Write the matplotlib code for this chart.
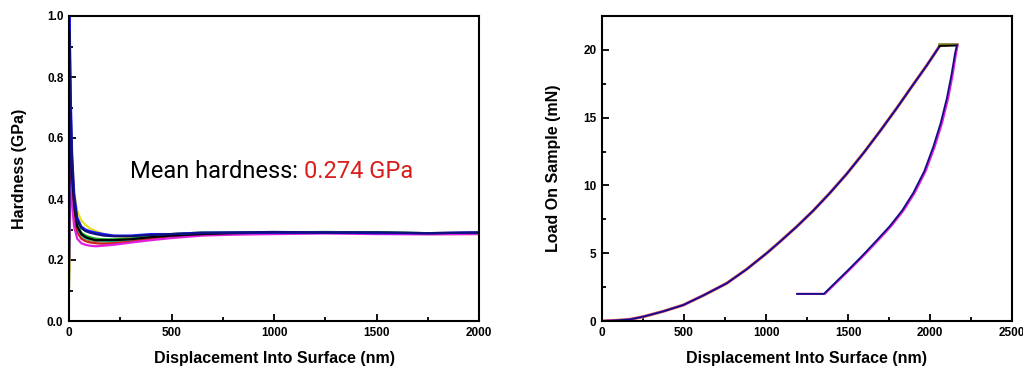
import matplotlib
matplotlib.use("Agg")
import matplotlib.pyplot as plt
from matplotlib.ticker import MultipleLocator, FormatStrFormatter

# hardness vs depth, one list per indent
hardness_depth = [0, 3, 8, 15, 25, 40, 60, 80, 100, 130, 170, 220, 300, 400,
                  500, 650, 800, 1000, 1250, 1500, 1750, 2000]
hardness_series = {
    "#e8e020": [0.15, 0.60, 0.66, 0.55, 0.42, 0.36, 0.33, 0.315, 0.305, 0.295, 0.285, 0.278,
                0.275, 0.28, 0.285, 0.29, 0.29, 0.29, 0.29, 0.288, 0.285, 0.285],
    "#909020": [0.10, 0.20, 0.55, 0.45, 0.36, 0.30, 0.278, 0.27, 0.265, 0.262, 0.26, 0.26,
                0.265, 0.272, 0.28, 0.285, 0.287, 0.288, 0.29, 0.289, 0.288, 0.288],
    "#20b020": [0.20, 0.88, 0.65, 0.50, 0.38, 0.32, 0.29, 0.28, 0.275, 0.27, 0.268, 0.268,
                0.27, 0.278, 0.285, 0.29, 0.29, 0.29, 0.292, 0.29, 0.288, 0.288],
    "#20d0d0": [0.20, 0.70, 0.58, 0.46, 0.36, 0.30, 0.28, 0.272, 0.268, 0.265, 0.263, 0.263,
                0.267, 0.275, 0.28, 0.285, 0.288, 0.29, 0.29, 0.29, 0.288, 0.288],
    "#d02020": [0.20, 0.60, 0.50, 0.42, 0.34, 0.29, 0.27, 0.262, 0.258, 0.255, 0.253, 0.255,
                0.26, 0.27, 0.278, 0.283, 0.286, 0.288, 0.289, 0.288, 0.287, 0.287],
    "#e020e0": [0.20, 0.45, 0.44, 0.38, 0.31, 0.27, 0.255, 0.25, 0.247, 0.245, 0.247, 0.25,
                0.257, 0.265, 0.272, 0.28, 0.283, 0.285, 0.287, 0.285, 0.284, 0.285],
    "#000000": [0.30, 0.80, 0.62, 0.48, 0.38, 0.31, 0.285, 0.275, 0.27, 0.265, 0.265, 0.265,
                0.268, 0.275, 0.28, 0.285, 0.288, 0.29, 0.29, 0.29, 0.288, 0.29],
    "#1a1aff": [0.20, 1.00, 0.75, 0.55, 0.42, 0.34, 0.31, 0.30, 0.295, 0.29, 0.285, 0.28,
                0.28, 0.285, 0.285, 0.29, 0.29, 0.29, 0.29, 0.288, 0.288, 0.29],
    "#101080": [0.25, 0.95, 0.70, 0.52, 0.40, 0.33, 0.305, 0.295, 0.29, 0.285, 0.28, 0.278,
                0.278, 0.282, 0.285, 0.288, 0.29, 0.292, 0.29, 0.29, 0.288, 0.29],
}

# load-displacement: loading branch, hold, unloading branch
loading_disp = [0, 80, 171, 252, 370, 496, 620, 760, 880, 1004, 1085, 1187, 1289,
                1390, 1492, 1595, 1695, 1800, 1898, 1980, 2057]
loading_load = [0, 0.04, 0.12, 0.32, 0.70, 1.18, 1.90, 2.78, 3.80, 5.00, 5.85, 6.96, 8.15,
                9.45, 10.85, 12.40, 14.00, 15.75, 17.45, 18.85, 20.25]
hold_disp = [2057, 2163]
hold_load = [20.28, 20.32]
hold_top_load = [20.42, 20.42]
unloading_disp = [2163, 2152, 2130, 2102, 2065, 2020, 1965, 1898, 1830, 1755, 1675,
                  1590, 1500, 1420, 1353, 1270, 1190]
unloading_load = [20.32, 19.70, 18.10, 16.40, 14.60, 12.85, 11.05, 9.45, 8.15, 7.00, 5.95,
                  4.85, 3.75, 2.80, 2.00, 2.00, 2.00]
unloading_disp_magenta = [2168, 2158, 2137, 2110, 2073, 2028, 1973, 1906, 1838, 1763, 1683,
                          1597, 1507, 1426, 1358, 1272, 1192]

mean_label = "Mean hardness: "
mean_value = "0.274 GPa"

plt.rcParams['font.family'] = ['Liberation Sans', 'DejaVu Sans']

fig = plt.figure(figsize=(10.23, 3.67), dpi=100)
ax1 = fig.add_axes([69 / 1023, 46 / 367, 410 / 1023, 305 / 367])
ax2 = fig.add_axes([602 / 1023, 46 / 367, 410 / 1023, 305 / 367])

for color, vals in hardness_series.items():
    ax1.plot(hardness_depth, vals, color=color, lw=1.6)

ax2.plot(hold_disp, hold_top_load, color="#707020", lw=1.8)
ax2.plot(loading_disp, loading_load, color="#e8e020", lw=2.4)
ax2.plot(loading_disp, loading_load, color="#e020e0", lw=1.9)
ax2.plot(unloading_disp_magenta, unloading_load, color="#e020e0", lw=1.6)
ax2.plot(loading_disp, loading_load, color="#101080", lw=1.3)
ax2.plot(hold_disp, hold_load, color="#000000", lw=1.3)
ax2.plot(unloading_disp, unloading_load, color="#101080", lw=1.3)

ax1.set_xlim(0, 2000)
ax1.set_ylim(0, 1.0)
ax1.xaxis.set_major_locator(MultipleLocator(500))
ax1.xaxis.set_minor_locator(MultipleLocator(250))
ax1.yaxis.set_major_locator(MultipleLocator(0.2))
ax1.yaxis.set_minor_locator(MultipleLocator(0.1))
ax1.yaxis.set_major_formatter(FormatStrFormatter('%.1f'))

ax2.set_xlim(0, 2500)
ax2.set_ylim(0, 22.5)
ax2.xaxis.set_major_locator(MultipleLocator(500))
ax2.xaxis.set_minor_locator(MultipleLocator(250))
ax2.yaxis.set_major_locator(MultipleLocator(5))
ax2.yaxis.set_minor_locator(MultipleLocator(2.5))

for ax in (ax1, ax2):
    for sp in ax.spines.values():
        sp.set_linewidth(1.5)
    ax.tick_params(which='both', direction='in', top=False, right=False, width=1.3)
    ax.tick_params(which='major', length=5, labelsize=8.5, pad=4)
    ax.tick_params(which='minor', length=3)
    for lbl in ax.get_xticklabels() + ax.get_yticklabels():
        lbl.set_fontweight('bold')
    ax.set_xlabel("Displacement Into Surface (nm)", fontsize=11.5, fontweight='bold', labelpad=9)

ax1.set_ylabel("Hardness (GPa)", fontsize=11.5, fontweight='bold', labelpad=14)
ax2.set_ylabel("Load On Sample (mN)", fontsize=11.5, fontweight='bold', labelpad=16)

txt_font = ['Liberation Sans Narrow', 'Roboto', 'DejaVu Sans']
ax1.text(0.573, 0.489, mean_label, transform=ax1.transAxes, ha='right', va='center',
         fontsize=17, family=txt_font, color='black')
ax1.text(0.573, 0.489, mean_value, transform=ax1.transAxes, ha='left', va='center',
         fontsize=17, family=txt_font, color='#d81e1e')

fig.savefig("out.png", dpi=100)
